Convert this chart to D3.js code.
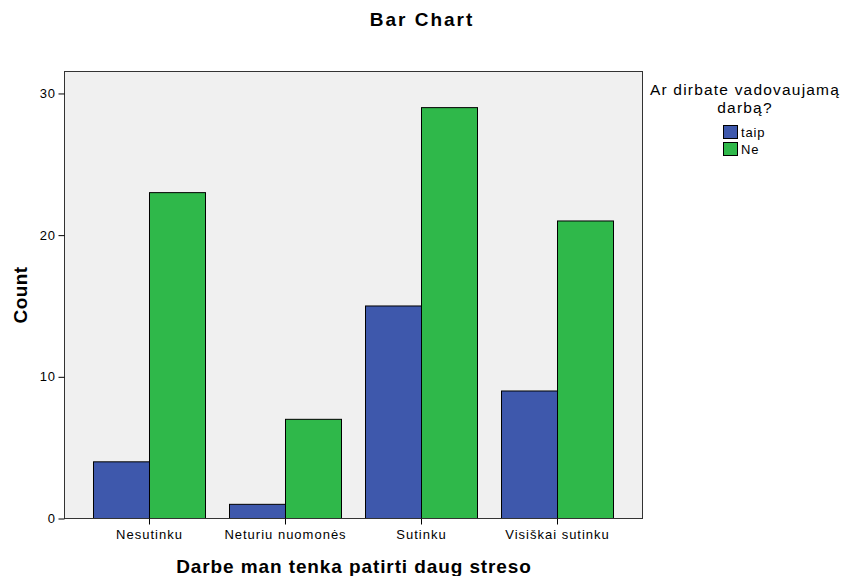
<!DOCTYPE html>
<html><head><meta charset="utf-8">
<script src="https://cdn.jsdelivr.net/npm/d3@7"></script>
<style>body{margin:0;background:#fff}svg{display:block}text{font-family:"Liberation Sans",Arial,sans-serif}</style>
</head><body>
<script>
const categories = ["Nesutinku", "Neturiu nuomonės", "Sutinku", "Visiškai sutinku"];
const seriesNames = ["taip", "Ne"];
const taip = [4, 1, 15, 9];
const ne = [23, 7, 29, 21];
const yTicks = [0, 10, 20, 30];
const colors = ["#3e58ac", "#2fb84a"];

const W = 843, H = 576;
const m = {l: 64.5, r: 642.5, t: 71.5, b: 518.5};
const svg = d3.select("body").append("svg").attr("width", W).attr("height", H);

const x = d3.scaleBand().domain(categories).range([m.l, m.r]).paddingInner(0.1765).paddingOuter(0.2132);
const xs = d3.scaleBand().domain(seriesNames).range([0, x.bandwidth()]);
const y = d3.scaleLinear().domain([0, 31.55]).range([m.b, m.t]);

svg.append("rect").attr("x", m.l).attr("y", m.t).attr("width", m.r - m.l).attr("height", m.b - m.t)
  .attr("fill", "#f0f0f0");

const data = categories.map((c, i) => ({c, vals: [taip[i], ne[i]]}));
const g = svg.append("g");
data.forEach(d => {
  d.vals.forEach((v, j) => {
    g.append("rect")
      .attr("x", x(d.c) + xs(seriesNames[j]))
      .attr("y", y(v))
      .attr("width", xs.bandwidth())
      .attr("height", y(0) - y(v))
      .attr("fill", colors[j]).attr("stroke", "#000").attr("stroke-width", 1);
  });
});

svg.append("rect").attr("x", m.l).attr("y", m.t).attr("width", m.r - m.l).attr("height", m.b - m.t)
  .attr("fill", "none").attr("stroke", "#333").attr("stroke-width", 1);

const yAxis = svg.append("g").attr("transform", `translate(${m.l},0)`)
  .call(d3.axisLeft(y).tickValues(yTicks).tickSize(6).tickPadding(3));
yAxis.select(".domain").remove();
yAxis.selectAll("text").attr("font-size", 13).attr("letter-spacing", 0.6).attr("fill", "#000").attr("font-family", "Liberation Sans, Arial, sans-serif");
yAxis.selectAll("line").attr("stroke", "#000");

const xAxis = svg.append("g").attr("transform", `translate(0,${m.b})`)
  .call(d3.axisBottom(x).tickSize(6).tickPadding(5));
xAxis.select(".domain").remove();
xAxis.selectAll("text").attr("font-size", 13).attr("letter-spacing", 1).attr("fill", "#000").attr("font-family", "Liberation Sans, Arial, sans-serif");
xAxis.selectAll("line").attr("stroke", "#000");

svg.append("text").attr("x", 422).attr("y", 26).attr("text-anchor", "middle")
  .attr("font-size", 19).attr("letter-spacing", 2).attr("font-weight", "bold").text("Bar Chart");
svg.append("text").attr("x", 354).attr("y", 573).attr("text-anchor", "middle")
  .attr("font-size", 19).attr("letter-spacing", 0.9).attr("font-weight", "bold").text("Darbe man tenka patirti daug streso");
svg.append("text").attr("transform", "translate(27,295) rotate(-90)").attr("text-anchor", "middle")
  .attr("font-size", 19).attr("letter-spacing", 0.4).attr("font-weight", "bold").text("Count");

const lg = svg.append("g");
lg.append("text").attr("x", 745).attr("y", 95).attr("text-anchor", "middle").attr("font-size", 15.5).attr("letter-spacing", 1.2).text("Ar dirbate vadovaujamą");
lg.append("text").attr("x", 745).attr("y", 113).attr("text-anchor", "middle").attr("font-size", 15.5).attr("letter-spacing", 1.2).text("darbą?");
seriesNames.forEach((s, i) => {
  lg.append("rect").attr("x", 723.5).attr("y", 125.5 + i * 17).attr("width", 14).attr("height", 13)
    .attr("fill", colors[i]).attr("stroke", "#000");
  lg.append("text").attr("x", 741).attr("y", 137 + i * 17).attr("font-size", 13).attr("letter-spacing", 0.8).text(s);
});
</script>
</body></html>
